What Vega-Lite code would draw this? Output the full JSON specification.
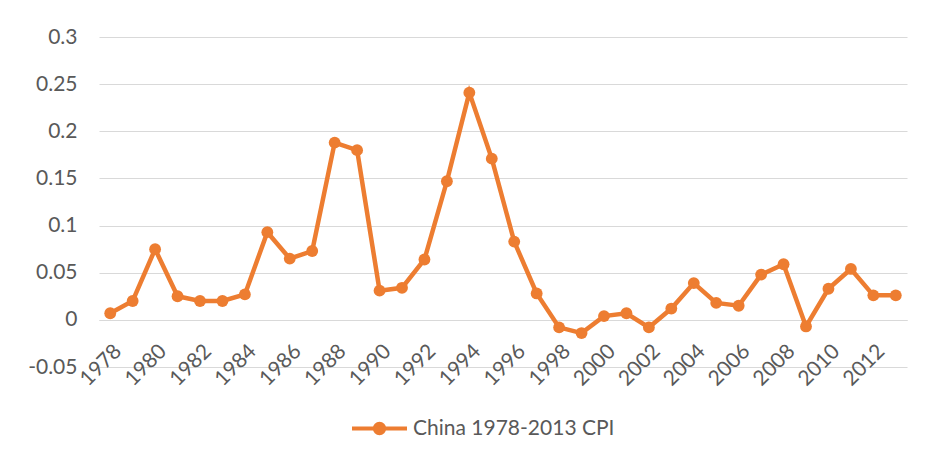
{
  "$schema": "https://vega.github.io/schema/vega-lite/v6.json",
  "autosize": {"type": "none"},
  "padding": {"left": 99, "top": 37, "right": 24, "bottom": 96},
  "width": 808,
  "height": 330,
  "background": "white",
  "config": {
    "view": {"stroke": null},
    "font": "Lato",
    "axis": {"labelFont": "Lato", "labelColor": "#595959", "labelFontSize": 21},
    "legend": {"labelFont": "Lato", "labelColor": "#595959", "labelFontSize": 21, "labelLimit": 500}
  },
  "data": {
    "values": [
      {"year": 1978, "cpi": 0.007, "series": "China 1978-2013 CPI"},
      {"year": 1979, "cpi": 0.020, "series": "China 1978-2013 CPI"},
      {"year": 1980, "cpi": 0.075, "series": "China 1978-2013 CPI"},
      {"year": 1981, "cpi": 0.025, "series": "China 1978-2013 CPI"},
      {"year": 1982, "cpi": 0.020, "series": "China 1978-2013 CPI"},
      {"year": 1983, "cpi": 0.020, "series": "China 1978-2013 CPI"},
      {"year": 1984, "cpi": 0.027, "series": "China 1978-2013 CPI"},
      {"year": 1985, "cpi": 0.093, "series": "China 1978-2013 CPI"},
      {"year": 1986, "cpi": 0.065, "series": "China 1978-2013 CPI"},
      {"year": 1987, "cpi": 0.073, "series": "China 1978-2013 CPI"},
      {"year": 1988, "cpi": 0.188, "series": "China 1978-2013 CPI"},
      {"year": 1989, "cpi": 0.180, "series": "China 1978-2013 CPI"},
      {"year": 1990, "cpi": 0.031, "series": "China 1978-2013 CPI"},
      {"year": 1991, "cpi": 0.034, "series": "China 1978-2013 CPI"},
      {"year": 1992, "cpi": 0.064, "series": "China 1978-2013 CPI"},
      {"year": 1993, "cpi": 0.147, "series": "China 1978-2013 CPI"},
      {"year": 1994, "cpi": 0.241, "series": "China 1978-2013 CPI"},
      {"year": 1995, "cpi": 0.171, "series": "China 1978-2013 CPI"},
      {"year": 1996, "cpi": 0.083, "series": "China 1978-2013 CPI"},
      {"year": 1997, "cpi": 0.028, "series": "China 1978-2013 CPI"},
      {"year": 1998, "cpi": -0.008, "series": "China 1978-2013 CPI"},
      {"year": 1999, "cpi": -0.014, "series": "China 1978-2013 CPI"},
      {"year": 2000, "cpi": 0.004, "series": "China 1978-2013 CPI"},
      {"year": 2001, "cpi": 0.007, "series": "China 1978-2013 CPI"},
      {"year": 2002, "cpi": -0.008, "series": "China 1978-2013 CPI"},
      {"year": 2003, "cpi": 0.012, "series": "China 1978-2013 CPI"},
      {"year": 2004, "cpi": 0.039, "series": "China 1978-2013 CPI"},
      {"year": 2005, "cpi": 0.018, "series": "China 1978-2013 CPI"},
      {"year": 2006, "cpi": 0.015, "series": "China 1978-2013 CPI"},
      {"year": 2007, "cpi": 0.048, "series": "China 1978-2013 CPI"},
      {"year": 2008, "cpi": 0.059, "series": "China 1978-2013 CPI"},
      {"year": 2009, "cpi": -0.007, "series": "China 1978-2013 CPI"},
      {"year": 2010, "cpi": 0.033, "series": "China 1978-2013 CPI"},
      {"year": 2011, "cpi": 0.054, "series": "China 1978-2013 CPI"},
      {"year": 2012, "cpi": 0.026, "series": "China 1978-2013 CPI"},
      {"year": 2013, "cpi": 0.026, "series": "China 1978-2013 CPI"}
    ]
  },
  "encoding": {
    "x": {
      "field": "year",
      "type": "ordinal",
      "scale": {"type": "point", "padding": 0.5},
      "axis": {
        "title": null,
        "values": [1978, 1980, 1982, 1984, 1986, 1988, 1990, 1992, 1994, 1996, 1998, 2000, 2002, 2004, 2006, 2008, 2010, 2012],
        "labelAngle": -45,
        "labelAlign": "right",
        "labelBaseline": "top",
        "labelPadding": 20,
        "offset": -47,
        "ticks": false,
        "domain": true,
        "domainColor": "#d9d9d9",
        "domainWidth": 1,
        "grid": false,
        "labelOverlap": false
      }
    },
    "y": {
      "field": "cpi",
      "type": "quantitative",
      "scale": {"domain": [-0.05, 0.3], "nice": false, "zero": false},
      "axis": {
        "title": null,
        "values": [-0.05, 0, 0.05, 0.1, 0.15, 0.2, 0.25, 0.3],
        "labelExpr": "'' + datum.value",
        "domain": false,
        "ticks": false,
        "labelPadding": 22,
        "gridColor": "#d9d9d9",
        "gridWidth": 1
      }
    },
    "color": {
      "field": "series",
      "type": "nominal",
      "scale": {"range": ["#ED7D31"]},
      "legend": {
        "title": null,
        "orient": "none",
        "legendX": 251,
        "legendY": 362,
        "padding": 0,
        "symbolType": "M-1,0L1,0M0.17,0A0.17,0.17,0,1,1,-0.17,0A0.17,0.17,0,1,1,0.17,0Z",
        "symbolSize": 3025,
        "symbolStrokeWidth": 4,
        "symbolStrokeColor": "#ED7D31",
        "symbolFillColor": "#ED7D31",
        "labelOffset": 4
      }
    }
  },
  "layer": [
    {"mark": {"type": "line", "strokeWidth": 4.5}},
    {"mark": {"type": "point", "filled": true, "size": 140, "opacity": 1}}
  ]
}
